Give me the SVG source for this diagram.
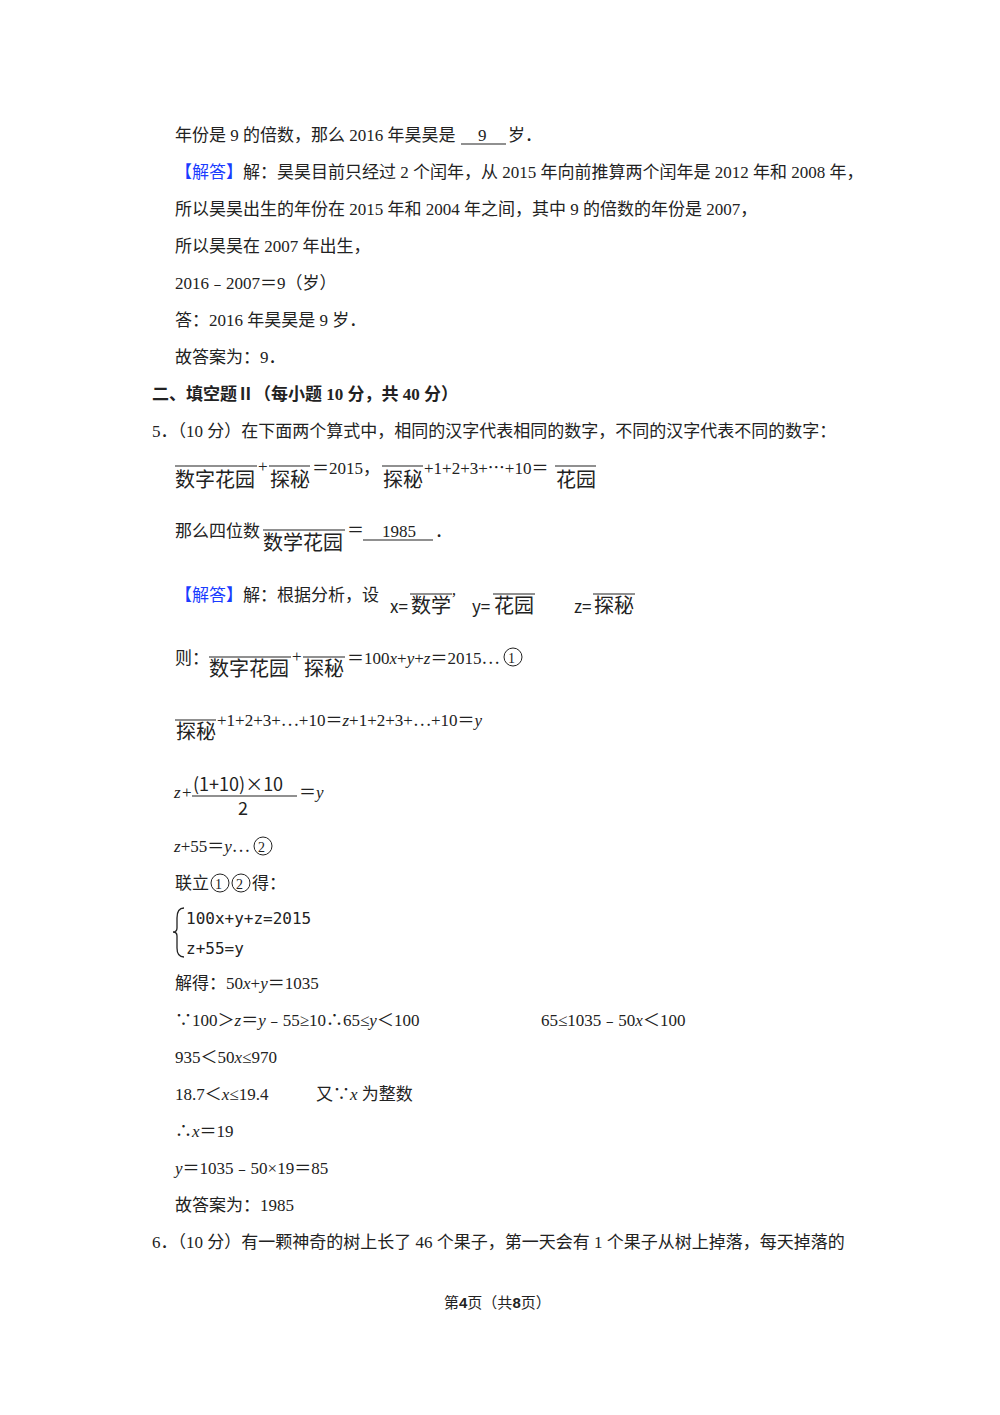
<svg xmlns="http://www.w3.org/2000/svg" width="1000" height="1415" viewBox="0 0 1000 1415">
<style>
text{font-family:"Liberation Serif","Noto Sans CJK SC",serif;font-size:17px;fill:#222}
.s{font-family:"Noto Sans CJK SC","Liberation Sans",sans-serif;font-size:20px}
.m{font-family:"DejaVu Sans Mono","Liberation Mono",monospace;font-size:16px}
.b{font-weight:bold}
.bl{fill:#1a3cff}
line{stroke:#222;stroke-width:1.2}
circle{fill:none;stroke:#222;stroke-width:1}
</style>
<rect width="1000" height="1415" fill="#fff"/>
<text x="175" y="141">年份是 9 的倍数，那么 2016 年昊昊是<tspan x="478">9</tspan><tspan x="508">岁．</tspan></text>
<line x1="461" y1="144" x2="506" y2="144"/>
<text x="175" y="178"><tspan class="bl">【解答】</tspan>解：昊昊目前只经过 2 个闰年，从 2015 年向前推算两个闰年是 2012 年和 2008 年，</text>
<text x="175" y="215">所以昊昊出生的年份在 2015 年和 2004 年之间，其中 9 的倍数的年份是 2007，</text>
<text x="175" y="252">所以昊昊在 2007 年出生，</text>
<text x="175" y="289">2016﹣2007＝9（岁）</text>
<text x="175" y="326">答：2016 年昊昊是  9 岁．</text>
<text x="175" y="363">故答案为：9．</text>
<text x="152" y="400" class="b">二、填空题Ⅱ（每小题 10 分，共 40 分）</text>
<text x="152" y="437">5．（10 分）在下面两个算式中，相同的汉字代表相同的数字，不同的汉字代表不同的数字：</text>

<line x1="175" y1="466" x2="257" y2="466"/><text class="s" x="175" y="487">数字花园</text>
<text x="258" y="472">+</text>
<line x1="269" y1="466" x2="310" y2="466"/><text class="s" x="270" y="487">探秘</text>
<text x="312" y="474">＝2015，</text>
<line x1="382" y1="466" x2="423" y2="466"/><text class="s" x="383" y="487">探秘</text>
<text x="424" y="474">+1+2+3+⋯+10＝</text>
<line x1="555" y1="466" x2="596" y2="466"/><text class="s" x="556" y="487">花园</text>

<text x="175" y="537">那么四位数</text>
<line x1="263" y1="530" x2="345" y2="530"/><text class="s" x="263" y="550">数学花园</text>
<text x="347" y="536">＝</text>
<text x="382" y="537">1985</text>
<line x1="363" y1="540" x2="433" y2="540"/>
<text x="435" y="537">．</text>

<text x="175" y="601"><tspan class="bl">【解答】</tspan>解：根据分析，设</text>
<text class="s" x="390" y="613" style="font-size:17px">x=</text><line x1="410" y1="594" x2="452" y2="594"/><text class="s" x="411" y="613">数学</text><text x="451" y="604">’</text>
<text class="s" x="472" y="613" style="font-size:17px">y=</text><line x1="493" y1="594" x2="535" y2="594"/><text class="s" x="494" y="613">花园</text>
<text class="s" x="574" y="613" style="font-size:17px">z=</text><line x1="593" y1="594" x2="635" y2="594"/><text class="s" x="594" y="613">探秘</text>

<text x="175" y="664">则：</text>
<line x1="209" y1="657" x2="291" y2="657"/><text class="s" x="209" y="676">数字花园</text>
<text x="292" y="662">+</text>
<line x1="303" y1="657" x2="345" y2="657"/><text class="s" x="304" y="676">探秘</text>
<text x="347" y="664">＝100<tspan font-style="italic">x</tspan>+<tspan font-style="italic">y</tspan>+<tspan font-style="italic">z</tspan>＝2015⋯</text>
<circle cx="513" cy="657" r="9"/><text x="508" y="663" style="font-size:14px">1</text>

<line x1="175" y1="720" x2="216" y2="720"/><text class="s" x="176" y="739">探秘</text>
<text x="217" y="726">+1+2+3+⋯+10＝<tspan font-style="italic">z</tspan>+1+2+3+⋯+10＝<tspan font-style="italic">y</tspan></text>

<text x="174" y="798" font-style="italic">z</text><text x="182" y="798">+</text>
<text class="s" x="193" y="791" style="font-size:18px">(1+10)×10</text>
<line x1="192" y1="796" x2="297" y2="796"/>
<text class="s" x="238" y="815" style="font-size:18px">2</text>
<text x="299" y="798">＝<tspan font-style="italic">y</tspan></text>

<text x="174" y="852"><tspan font-style="italic">z</tspan>+55＝<tspan font-style="italic">y</tspan>⋯</text>
<circle cx="263" cy="846" r="9"/><text x="258" y="852" style="font-size:14px">2</text>

<text x="175" y="889">联立</text>
<circle cx="220" cy="883" r="9"/><text x="215" y="889" style="font-size:14px">1</text>
<circle cx="241" cy="883" r="9"/><text x="236" y="889" style="font-size:14px">2</text>
<text x="252" y="889">得：</text>

<path d="M184,908 Q177,908 177,918 L177,928 Q177,932 173,932 Q177,932 177,936 L177,948 Q177,957 184,957" fill="none" stroke="#222" stroke-width="1.3"/>
<text class="m" x="186" y="924">100x+y+z=2015</text>
<text class="m" x="186" y="954">z+55=y</text>

<text x="175" y="989">解得：50<tspan font-style="italic">x</tspan>+<tspan font-style="italic">y</tspan>＝1035</text>
<text x="175" y="1026">∵100＞<tspan font-style="italic">z</tspan>＝<tspan font-style="italic">y</tspan>﹣55≥10∴65≤<tspan font-style="italic">y</tspan>＜100</text>
<text x="541" y="1026">65≤1035﹣50<tspan font-style="italic">x</tspan>＜100</text>
<text x="175" y="1063">935＜50<tspan font-style="italic">x</tspan>≤970</text>
<text x="175" y="1100">18.7＜<tspan font-style="italic">x</tspan>≤19.4</text>
<text x="316" y="1100">又∵<tspan font-style="italic">x</tspan>  为整数</text>
<text x="175" y="1137">∴<tspan font-style="italic">x</tspan>＝19</text>
<text x="175" y="1174"><tspan font-style="italic">y</tspan>＝1035﹣50×19＝85</text>
<text x="175" y="1211">故答案为：1985</text>
<text x="152" y="1248">6．（10 分）有一颗神奇的树上长了 46 个果子，第一天会有 1 个果子从树上掉落，每天掉落的</text>

<text x="444" y="1308" style="font-size:15px">第<tspan class="b" style="font-family:'Liberation Sans',sans-serif">4</tspan>页（共<tspan class="b" style="font-family:'Liberation Sans',sans-serif">8</tspan>页）</text>
</svg>
